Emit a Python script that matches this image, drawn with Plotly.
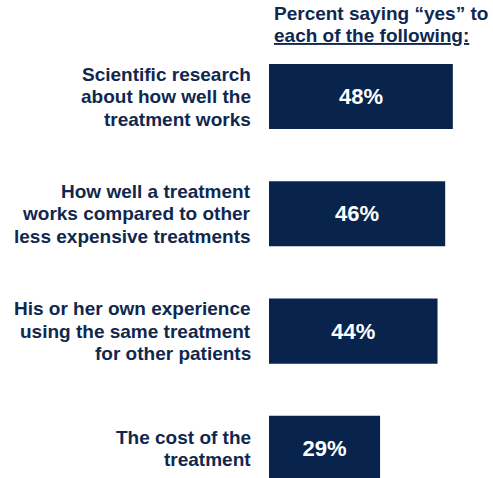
import plotly.graph_objects as go

categories = [
    ["Scientific research", "about how well the", "treatment works"],
    ["How well a treatment", "works compared to other", "less expensive treatments"],
    ["His or her own experience", "using the same treatment", "for other patients"],
    ["The cost of the", "treatment"],
]
values = [48, 46, 44, 29]
value_labels = ["48%", "46%", "44%", "29%"]
header_lines = ["Percent saying “yes” to", "each of the following:"]

W, H = 493, 478
L = 269
NAVY = "#08244c"
TEXT = "#10284f"
FONT = "Liberation Sans, Arial, sans-serif"
FS = 19
LINE = 22.5

ypos = list(range(len(categories)))

fig = go.Figure(
    go.Bar(
        x=values,
        y=ypos,
        orientation="h",
        width=0.555,
        marker=dict(color=NAVY, line=dict(width=0)),
        text=value_labels,
        textposition="inside",
        insidetextanchor="middle",
        textfont=dict(color="white", size=22, family=FONT),
        texttemplate="<b>%{text}</b>",
        hoverinfo="skip",
        cliponaxis=False,
    )
)

annotations = []
for yv, lines in zip(ypos, categories):
    n = len(lines)
    for i, ln in enumerate(lines):
        annotations.append(
            dict(
                x=0, y=yv, xref="x", yref="y",
                text="<b>" + ln + "</b>",
                xanchor="right", yanchor="middle", align="right",
                xshift=-16, yshift=((n - 1) / 2 - i) * LINE, showarrow=False,
                font=dict(color=TEXT, size=FS, family=FONT),
            )
        )

for i, ln in enumerate(header_lines):
    txt = "<b>" + ln + "</b>" if i == 0 else "<b><u>" + ln + "</u></b>"
    annotations.append(
        dict(
            x=(272 - L) / (W - L), y=1 - (13 + i * 23) / H, xref="paper", yref="paper",
            text=txt,
            xanchor="left", yanchor="middle", align="left", showarrow=False,
            font=dict(color=TEXT, size=FS, family=FONT),
        )
    )

px_per_unit = 117.3
top_center = 96.5
y_top = -top_center / px_per_unit
y_bot = (H - top_center) / px_per_unit

fig.update_layout(
    width=W, height=H,
    margin=dict(l=L, r=0, t=0, b=0),
    paper_bgcolor="white", plot_bgcolor="white",
    showlegend=False,
    xaxis=dict(range=[0, (W - L) / 3.83], visible=False, fixedrange=True),
    yaxis=dict(range=[y_bot, y_top], visible=False, fixedrange=True),
    annotations=annotations,
)

fig.write_html(
    "out.html",
    config={"displayModeBar": False, "staticPlot": True},
    post_script="document.body.style.margin='0';document.body.style.overflow='hidden';",
)
